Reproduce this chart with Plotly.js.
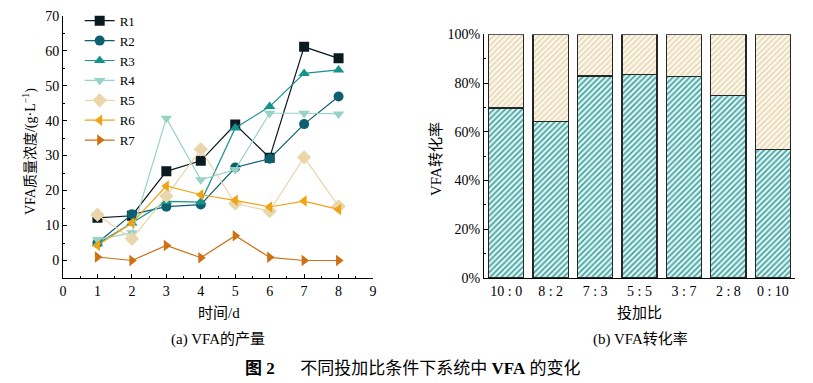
<!DOCTYPE html>
<html>
<head>
<meta charset="utf-8">
<script src="https://cdn.plot.ly/plotly-3.0.1.min.js"></script>
<style>body{margin:0;background:#fff}#chart{width:813px;height:383px}</style>
</head>
<body>
<div id="chart"></div>
<script>
const days = [1, 2, 3, 4, 5, 6, 7, 8];
const R1 = [12.2, 12.8, 25.5, 28.5, 38.9, 29.4, 61.1, 57.8];
const R2 = [5.0, 13.2, 15.4, 16.0, 26.6, 29.1, 39.0, 46.9];
const R3 = [4.8, 10.7, 16.9, 16.7, 37.9, 44.0, 53.5, 54.5];
const R4 = [6.0, 7.9, 40.7, 23.1, 26.0, 42.1, 42.1, 41.9];
const R5 = [13.1, 6.2, 18.4, 31.8, 16.3, 14.1, 29.5, 15.5];
const R6 = [4.3, 10.7, 21.3, 18.8, 17.2, 15.3, 17.0, 14.6];
const R7 = [1.0, 0.0, 4.3, 0.8, 7.1, 0.9, 0.0, 0.0];
const seriesNames = ['R1', 'R2', 'R3', 'R4', 'R5', 'R6', 'R7'];
const ratios = ['10 : 0', '8 : 2', '7 : 3', '5 : 5', '3 : 7', '2 : 8', '0 : 10'];
const conversion = [69.7, 64.2, 82.9, 83.6, 82.7, 74.9, 52.6];
const remainder = conversion.map(v => 100 - v);

const serif = 'Liberation Serif, Times New Roman, Noto Sans CJK SC, serif';
const seriesData = [R1, R2, R3, R4, R5, R6, R7];
const colors = ['#0a1a20', '#0e5f70', '#17938e', '#95d4c5', '#e9d6aa', '#f0a314', '#cf7012'];
const symbols = ['square', 'circle', 'triangle-up', 'triangle-down', 'diamond', 'triangle-left', 'triangle-right'];

const traces = seriesData.map((d, i) => ({
  x: days, y: d, name: seriesNames[i], type: 'scatter', mode: 'lines+markers',
  xaxis: 'x', yaxis: 'y',
  line: {color: colors[i], width: 1.2},
  marker: {color: colors[i], symbol: symbols[i], size: i === 4 ? 11 : 10, line: {width: 0}}
}));

traces.push({
  x: ratios, y: conversion, type: 'bar', xaxis: 'x2', yaxis: 'y2', showlegend: false,
  width: 0.79,
  marker: {color: '#e4f4f3', line: {color: '#262626', width: 1.3},
    pattern: {shape: '/', fgcolor: '#3aa29f', bgcolor: '#e4f4f3', size: 4, solidity: 0.4}}
});
traces.push({
  x: ratios, y: remainder, type: 'bar', xaxis: 'x2', yaxis: 'y2', showlegend: false,
  width: 0.79,
  marker: {color: '#fcf8ee', line: {color: '#262626', width: 1.3},
    pattern: {shape: '/', fgcolor: '#e7d8b2', bgcolor: '#fcf8ee', size: 4, solidity: 0.4}}
});

const axisCommon = {
  showline: true, linecolor: '#000', linewidth: 1, showgrid: false, zeroline: false,
  ticks: 'inside', ticklen: 4, tickcolor: '#000', tickwidth: 1,
  tickfont: {family: serif, size: 14, color: '#000'}
};
const txt = (text, x, y, size, angle) => ({
  text: text, xref: 'paper', yref: 'paper', x: x / 813, y: 1 - y / 383,
  xanchor: 'center', yanchor: 'middle', showarrow: false, textangle: angle || 0,
  font: {family: serif, size: size, color: '#000'}
});

const layout = {
  width: 813, height: 383,
  margin: {l: 0, r: 0, t: 0, b: 0},
  paper_bgcolor: '#fff', plot_bgcolor: 'rgba(0,0,0,0)',
  barmode: 'stack', bargap: 0.21,
  showlegend: true,
  legend: {x: 0.098, y: 0.985, xanchor: 'left', yanchor: 'top', bgcolor: 'rgba(0,0,0,0)',
    traceorder: 'normal',
    font: {family: serif, size: 13, color: '#000'}, tracegroupgap: 0, itemwidth: 30},
  xaxis: Object.assign({}, axisCommon, {
    domain: [0.0775, 0.4588], range: [0, 9], dtick: 1, anchor: 'y',
    minor: {dtick: 0.5, ticks: 'inside', ticklen: 2, tickcolor: '#000'}
  }),
  yaxis: Object.assign({}, axisCommon, {
    domain: [0.2742, 0.959], range: [-5, 70], tickvals: [0, 10, 20, 30, 40, 50, 60, 70], anchor: 'x',
    minor: {tickvals: [5, 15, 25, 35, 45, 55, 65], ticks: 'inside', ticklen: 2, tickcolor: '#000'}
  }),
  xaxis2: Object.assign({}, axisCommon, {
    domain: [0.5953, 0.9779], range: [-0.5, 6.5], anchor: 'y2', ticks: ''
  }),
  yaxis2: Object.assign({}, axisCommon, {
    domain: [0.2742, 0.9104], range: [0, 100], tickvals: [0, 20, 40, 60, 80, 100],
    ticktext: ['0%', '20%', '40%', '60%', '80%', '100%'], anchor: 'x2',
    minor: {tickvals: [10, 30, 50, 70, 90], ticks: 'inside', ticklen: 2, tickcolor: '#000'}
  }),
  annotations: [
    txt('时间/d', 219, 313, 15),
    txt('投加比', 639, 313, 15),
    txt('VFA质量浓度/(g·L<sup>−1</sup>)', 29, 152, 14, -90),
    txt('VFA转化率', 436, 159, 15, -90),
    txt('(a) VFA的产量', 218, 339, 15),
    txt('(b) VFA转化率', 640, 339, 15),
    txt('<b>图 2</b>      不同投加比条件下系统中 <b>VFA</b> 的变化', 412, 368, 17)
  ]
};

Plotly.newPlot('chart', traces, layout, {displayModeBar: false, staticPlot: true});
</script>
</body>
</html>
